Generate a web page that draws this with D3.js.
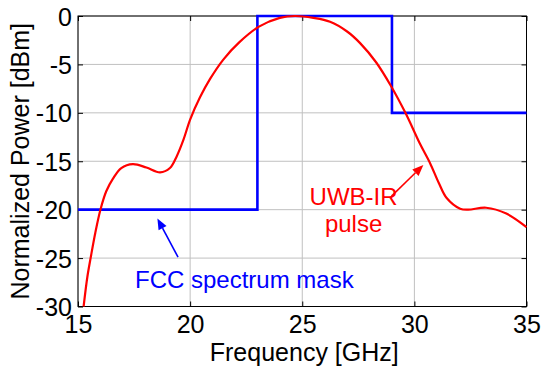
<!DOCTYPE html>
<html>
<head>
<meta charset="utf-8">
<script src="https://cdn.jsdelivr.net/npm/d3@7.9.0/dist/d3.min.js"></script>
<style>
  html, body { margin: 0; padding: 0; background: #fff; }
  svg { display: block; font-family: "Liberation Sans", Arial, sans-serif; }
</style>
</head>
<body>
<svg id="chart" width="546" height="371"></svg>
<script>
// UWB-IR pulse spectrum (GHz, dBm)
const pulseFreq = [15.25, 15.42, 15.57, 15.77, 16.0, 16.26, 16.56, 16.93, 17.45, 18.05, 18.66, 19.1, 19.4,
  19.7, 20.0, 20.44, 20.89, 21.48, 22.2, 23.07, 24.0, 24.68, 25.5, 26.24, 27.0, 27.58, 28.3, 28.95,
  29.6, 30.25, 30.7, 31.1, 31.44, 32.04, 32.4, 33.2, 34.1, 35.0];
const pulsePower = [-30, -26.9, -24.9, -22.4, -20.0, -18.1, -16.8, -15.7, -15.3, -15.65, -16.15, -15.7, -14.5,
  -12.8, -10.7, -8.4, -6.5, -4.5, -2.7, -1.1, -0.2, 0, -0.2, -0.6, -1.6, -2.8, -4.8, -7.2,
  -10.0, -13.2, -15.2, -17.3, -18.8, -19.9, -20.0, -19.8, -20.4, -21.8];

// FCC mask, step after each breakpoint
const maskFreq = [15, 23, 29, 35];
const maskPower = [-20, 0, -10, -10];

const xTicks = [15, 20, 25, 30, 35];
const yTicks = [0, -5, -10, -15, -20, -25, -30];

const margin = { top: 16, right: 19.5, bottom: 64.5, left: 78 };
const width = 546 - margin.left - margin.right;
const height = 371 - margin.top - margin.bottom;
const fontSize = 25;
const noteSize = 24;

const svg = d3.select('#chart');
const g = svg.append('g').attr('transform', `translate(${margin.left},${margin.top})`);

const x = d3.scaleLinear().domain([15, 35]).range([0, width]);
const y = d3.scaleLinear().domain([-30, 0]).range([height, 0]);

// grid
g.append('g')
  .selectAll('line')
  .data(xTicks)
  .join('line')
  .attr('x1', d => x(d)).attr('x2', d => x(d))
  .attr('y1', 0).attr('y2', height)
  .attr('stroke', '#c0c0c0').attr('stroke-width', 1);
g.append('g')
  .selectAll('line')
  .data(yTicks)
  .join('line')
  .attr('x1', 0).attr('x2', width)
  .attr('y1', d => y(d)).attr('y2', d => y(d))
  .attr('stroke', '#c0c0c0').attr('stroke-width', 1);

// axes with inward ticks, plain hyphen for negatives
const plain = d => String(d);

function styleAxis(sel) {
  sel.select('.domain').remove();
  sel.selectAll('.tick line').attr('stroke', '#000');
  sel.selectAll('.tick text').attr('font-size', fontSize).attr('fill', '#000')
    .attr('font-family', '"Liberation Sans", Arial, sans-serif');
}

g.append('g')
  .attr('transform', `translate(0,${height})`)
  .call(d3.axisBottom(x).tickValues(xTicks).tickFormat(plain).tickSizeInner(-5).tickSizeOuter(0).tickPadding(9))
  .call(styleAxis)
  .selectAll('.tick text').attr('dy', '0.71em');

g.append('g')
  .call(d3.axisTop(x).tickValues(xTicks).tickSizeInner(-5).tickSizeOuter(0).tickFormat(''))
  .call(styleAxis);

g.append('g')
  .call(d3.axisLeft(y).tickValues(yTicks).tickFormat(plain).tickSizeInner(-5).tickSizeOuter(0).tickPadding(6))
  .call(styleAxis)
  .selectAll('.tick text').attr('dy', '0.36em');

g.append('g')
  .attr('transform', `translate(${width},0)`)
  .call(d3.axisRight(y).tickValues(yTicks).tickSizeInner(-5).tickSizeOuter(0).tickFormat(''))
  .call(styleAxis);

// box
g.append('rect')
  .attr('width', width).attr('height', height)
  .attr('fill', 'none').attr('stroke', '#000').attr('stroke-width', 1);

// clip
svg.append('defs').append('clipPath').attr('id', 'plot-clip')
  .append('rect').attr('x', -2).attr('y', -2).attr('width', width + 4).attr('height', height + 4);

const plot = g.append('g').attr('clip-path', 'url(#plot-clip)');

const maskLine = d3.line()
  .x(d => x(d[0]))
  .y(d => y(d[1]))
  .curve(d3.curveStepAfter);

plot.append('path')
  .datum(maskFreq.map((f, i) => [f, maskPower[i]]))
  .attr('d', maskLine)
  .attr('fill', 'none')
  .attr('stroke', '#0000ff')
  .attr('stroke-width', 2.6);

const pulseLine = d3.line()
  .x(d => x(d[0]))
  .y(d => y(d[1]))
  .curve(d3.curveCatmullRom.alpha(0.5));

plot.append('path')
  .datum(pulseFreq.map((f, i) => [f, pulsePower[i]]))
  .attr('d', pulseLine)
  .attr('fill', 'none')
  .attr('stroke', '#ff0000')
  .attr('stroke-width', 2.2);

// annotation arrows
function arrow(from, to, color) {
  const x1 = x(from[0]), y1 = y(from[1]);
  const x2 = x(to[0]), y2 = y(to[1]);
  const ang = Math.atan2(y2 - y1, x2 - x1);
  const len = 11, half = 4.5;
  const bx = x2 - len * Math.cos(ang), by = y2 - len * Math.sin(ang);
  g.append('line')
    .attr('x1', x1).attr('y1', y1).attr('x2', bx).attr('y2', by)
    .attr('stroke', color).attr('stroke-width', 1.6);
  const px = -Math.sin(ang) * half, py = Math.cos(ang) * half;
  g.append('path')
    .attr('d', `M${x2},${y2}L${bx + px},${by + py}L${bx - px},${by - py}Z`)
    .attr('fill', color);
}

arrow([19.46, -24.9], [18.54, -20.9], '#0000ff');
arrow([28.98, -18.6], [30.4, -15.4], '#ff0000');

// annotation labels
g.append('text')
  .attr('x', x(15) + 57).attr('y', y(-28.1))
  .attr('font-size', noteSize).attr('fill', '#0000ff')
  .text('FCC spectrum mask');

const uwb = g.append('text')
  .attr('text-anchor', 'middle')
  .attr('font-size', noteSize).attr('fill', '#ff0000');
uwb.append('tspan').attr('x', x(27.29)).attr('y', y(-19.5)).text('UWB-IR');
uwb.append('tspan').attr('x', x(27.29)).attr('y', y(-22.3)).text('pulse');

// axis titles
svg.append('text')
  .attr('x', margin.left + width / 2 + 2).attr('y', 361)
  .attr('text-anchor', 'middle')
  .attr('font-size', fontSize).attr('fill', '#000')
  .text('Frequency [GHz]');

svg.append('text')
  .attr('transform', `translate(29,${margin.top + height / 2}) rotate(-90)`)
  .attr('text-anchor', 'middle')
  .attr('font-size', fontSize).attr('fill', '#000')
  .text('Normalized Power [dBm]');
</script>
</body>
</html>
